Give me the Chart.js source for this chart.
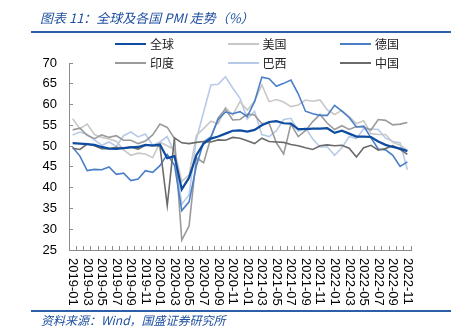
<!DOCTYPE html>
<html>
<head>
<meta charset="utf-8">
<script src="https://cdn.jsdelivr.net/npm/chart.js@4"></script>
<style>
  html, body { margin: 0; padding: 0; background: #fff; }
  #wrap { position: relative; width: 457px; height: 334px; overflow: hidden; }
  #chart { position: absolute; left: 0; top: 0; }
  .title, .source {
    position: absolute; left: 40px; color: #1f50a0; font-style: italic;
    font-family: "Noto Sans CJK SC", "Liberation Sans", sans-serif; white-space: nowrap;
  }
  .title { top: 8px; font-size: 13px; }
  .source { left: 41px; top: 311px; font-size: 12px; }
  .rule { position: absolute; left: 31px; width: 420px; height: 2px; background: #2e5ea8; }
  .legend { position: absolute; left: 115px; top: 34px; display: grid;
    grid-template-columns: 112.5px 112.5px 112.5px; grid-auto-rows: 19px;
    font-family: "Noto Sans CJK SC", sans-serif; font-size: 12px; color: #222; }
  .legend-item { display: flex; align-items: center; }
  .legend-line { width: 31px; height: 2px; margin-right: 4px; }
</style>
</head>
<body>
<div id="wrap">
  <canvas id="chart" width="457" height="334"></canvas>
  <div class="title">图表 11：全球及各国 PMI 走势（%）</div>
  <div class="rule" style="top:31px"></div>
  <div class="legend" id="legend"></div>
  <div class="rule" style="top:310px"></div>
  <div class="source">资料来源：Wind，国盛证券研究所</div>
</div>
<script>
const months = [
  '2019-01','2019-02','2019-03','2019-04','2019-05','2019-06','2019-07','2019-08','2019-09','2019-10','2019-11','2019-12',
  '2020-01','2020-02','2020-03','2020-04','2020-05','2020-06','2020-07','2020-08','2020-09','2020-10','2020-11','2020-12',
  '2021-01','2021-02','2021-03','2021-04','2021-05','2021-06','2021-07','2021-08','2021-09','2021-10','2021-11','2021-12',
  '2022-01','2022-02','2022-03','2022-04','2022-05','2022-06','2022-07','2022-08','2022-09','2022-10','2022-11',
];

const globalPmi = [50.7,50.6,50.5,50.3,49.8,49.4,49.3,49.5,49.7,49.8,50.3,50.1,
  50.4,47.1,47.6,39.6,42.4,47.8,50.6,51.8,52.3,53.0,53.7,53.8,
  53.5,53.9,55.0,55.8,56.0,55.5,55.4,54.1,54.1,54.2,54.2,54.3,
  53.2,53.7,53.0,52.3,52.3,52.2,51.1,50.3,49.8,49.4,48.8];
const usPmi = [56.6,54.2,55.3,52.8,52.1,51.7,51.2,49.1,47.8,48.3,48.1,47.2,
  50.9,50.1,49.1,41.5,43.1,52.6,54.2,56.0,55.4,59.3,57.5,60.7,
  58.7,60.8,64.7,60.7,61.2,60.6,59.5,59.9,61.1,60.8,61.1,58.7,
  57.6,58.6,57.1,55.4,56.1,53.0,52.8,52.8,50.9,50.2,49.0];
const germanyPmi = [49.7,47.6,44.1,44.4,44.3,45.0,43.2,43.5,41.7,42.1,44.1,43.7,
  45.3,48.0,45.4,34.5,36.6,45.2,51.0,52.2,56.4,58.2,57.8,58.3,
  57.1,60.7,66.6,66.2,64.4,65.1,65.9,62.6,58.4,57.8,57.4,57.4,
  59.8,58.4,56.9,54.6,54.8,52.0,49.3,49.1,47.8,45.1,46.2];
const indiaPmi = [53.9,54.3,52.6,51.8,52.7,52.1,52.5,51.4,51.4,50.6,51.2,52.7,
  55.3,54.5,51.8,27.4,30.8,47.2,46.0,52.0,56.8,58.9,56.3,56.4,
  57.7,57.5,55.4,55.5,50.8,48.1,55.3,52.3,53.7,55.9,57.6,55.5,
  54.0,54.9,54.0,54.7,54.6,53.9,56.4,56.2,55.1,55.3,55.7];
const brazilPmi = [52.7,53.4,52.8,51.5,50.2,51.0,49.9,52.5,53.4,52.2,52.9,50.2,
  51.0,52.3,48.4,36.0,38.3,51.6,58.2,64.7,64.9,66.7,64.0,61.5,
  56.5,58.4,52.8,52.3,53.7,56.4,56.7,53.6,54.4,51.7,49.8,49.8,
  47.8,49.6,52.3,51.8,54.2,54.1,54.0,51.9,51.1,50.8,44.3];
const chinaPmi = [49.5,49.2,50.5,50.1,49.4,49.4,49.7,49.5,49.8,49.3,50.2,50.2,
  50.0,35.7,52.0,50.8,50.6,50.9,51.1,51.0,51.5,51.4,52.1,51.9,
  51.3,50.6,51.9,51.1,51.0,50.9,50.4,50.1,49.6,49.2,50.1,50.3,
  50.1,50.2,49.5,47.4,49.6,50.2,49.0,49.4,50.1,49.2,48.0];

const series = [
  { label: '全球', data: globalPmi,  color: '#0d4ca0', width: 2.2, order: 0 },
  { label: '美国', data: usPmi,      color: '#c8c8c8', width: 1.6, order: 5 },
  { label: '德国', data: germanyPmi, color: '#4a7fc8', width: 1.6, order: 3 },
  { label: '印度', data: indiaPmi,   color: '#9b9b9b', width: 1.6, order: 4 },
  { label: '巴西', data: brazilPmi,  color: '#b7cbe8', width: 1.6, order: 6 },
  { label: '中国', data: chinaPmi,   color: '#6b6b6b', width: 1.6, order: 2 },
];

const axisColor = '#8c8c8c';
const tickFont = { family: '"Liberation Sans", Arial, sans-serif', size: 13 };

// ---------- Legend (html) ----------
const legendEl = document.getElementById('legend');
for (const s of series) {
  const item = document.createElement('div');
  item.className = 'legend-item';
  const line = document.createElement('span');
  line.className = 'legend-line';
  line.style.background = s.color;
  const text = document.createElement('span');
  text.textContent = s.label;
  item.append(line, text);
  legendEl.appendChild(item);
}

// x labels in the reference read top-to-bottom, so draw them rotated clockwise
const verticalLabels = {
  id: 'verticalLabels',
  afterDraw(chart) {
    const { ctx, scales: { x } } = chart;
    ctx.save();
    ctx.font = `${tickFont.size}px ${tickFont.family}`;
    ctx.fillStyle = '#000';
    ctx.textAlign = 'left';
    ctx.textBaseline = 'middle';
    months.forEach((m, i) => {
      if (i % 2) return;
      ctx.save();
      ctx.translate(x.getPixelForValue(i), x.top + 8);
      ctx.rotate(Math.PI / 2);
      ctx.fillText(m, 0, 0);
      ctx.restore();
    });
    ctx.restore();
  },
};

new Chart(document.getElementById('chart'), {
  type: 'line',
  data: {
    labels: months,
    datasets: series.map(s => ({
      label: s.label,
      data: s.data,
      borderColor: s.color,
      backgroundColor: s.color,
      borderWidth: s.width,
      pointRadius: 0,
      tension: 0,
      fill: false,
      order: s.order,
    })),
  },
  options: {
    responsive: false,
    animation: false,
    events: [],
    layout: { padding: { top: 63, right: 46, left: 0, bottom: 0 } },
    plugins: { legend: { display: false }, tooltip: { enabled: false } },
    scales: {
      x: {
        offset: true,
        grid: { display: true, drawOnChartArea: false, drawTicks: true, tickLength: -4, offset: true, color: axisColor },
        border: { color: axisColor },
        ticks: { display: false, autoSkip: false },
        afterFit: s => { s.height = 84; },
      },
      y: {
        min: 25,
        max: 70,
        grid: { display: true, drawOnChartArea: false, drawTicks: true, tickLength: -4, color: axisColor },
        border: { color: axisColor },
        ticks: { stepSize: 5, color: '#000', font: tickFont, padding: 16 },
        afterFit: s => { s.width = 69; },
      },
    },
  },
  plugins: [verticalLabels],
});
</script>
</body>
</html>
